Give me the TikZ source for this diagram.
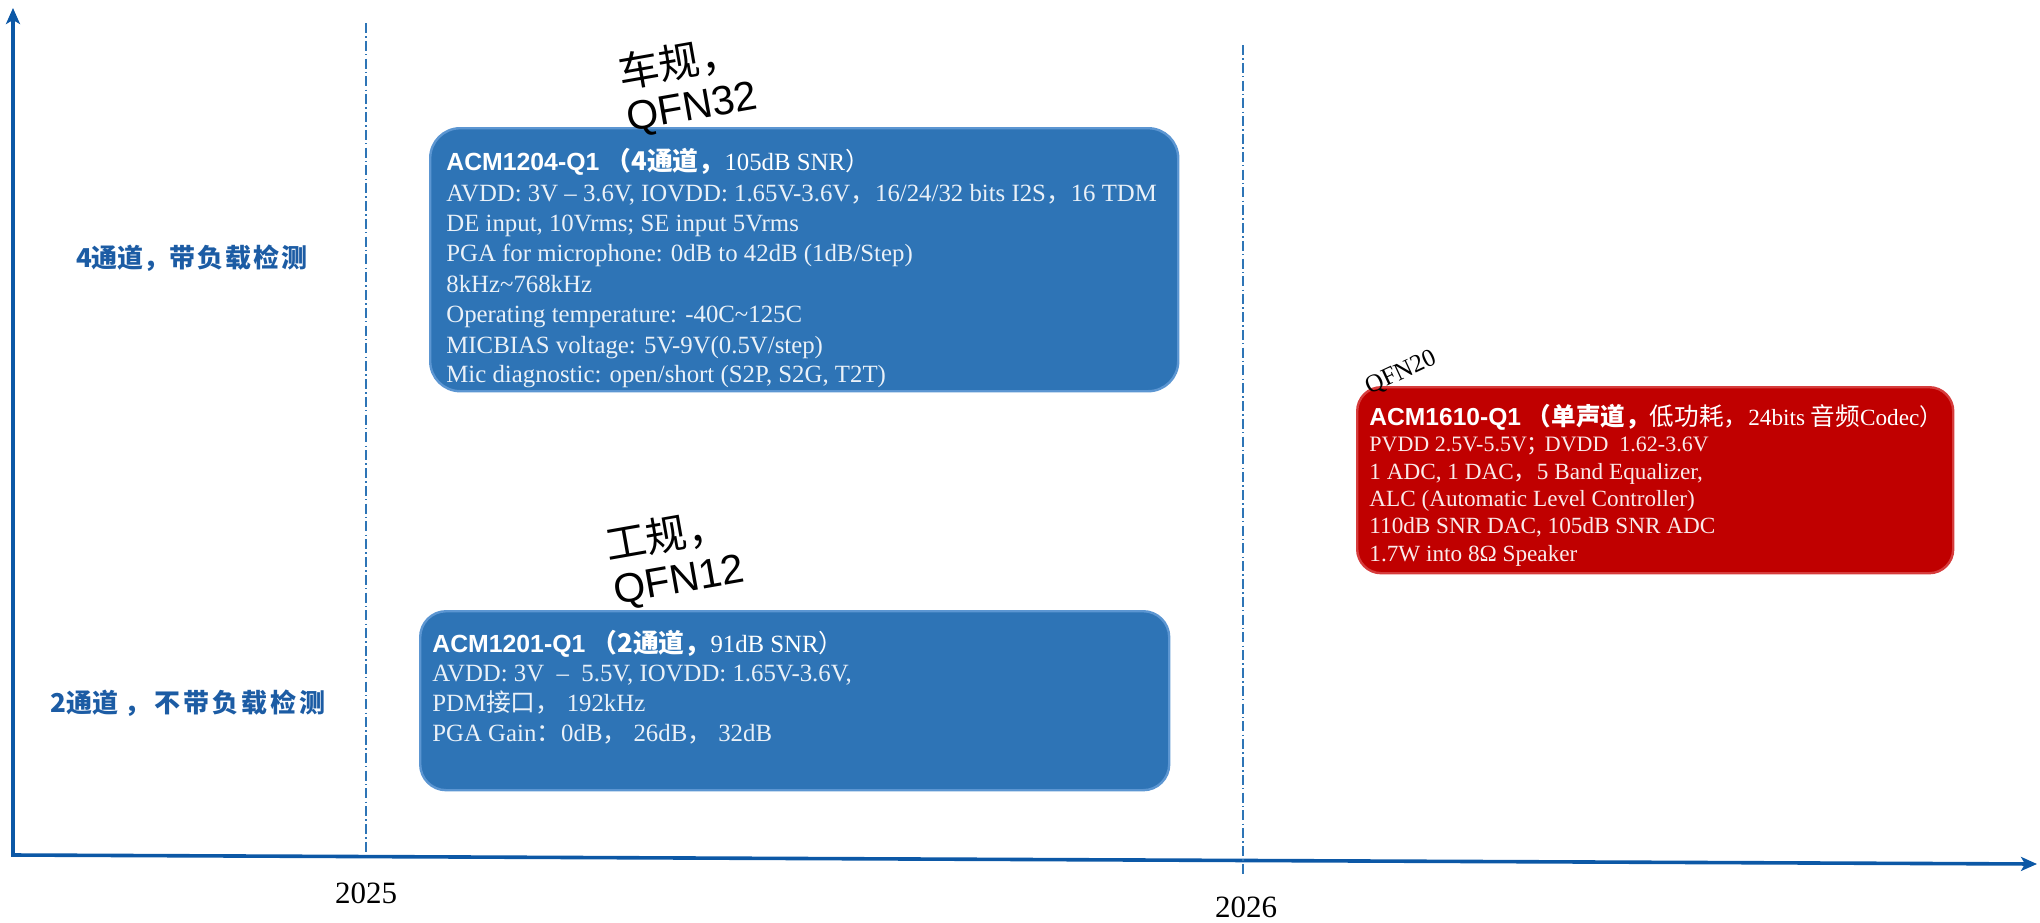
\documentclass[tikz,border=0pt]{standalone}
\usepackage{fontspec}
\setmainfont{Liberation Serif}
\newfontfamily\arialf{Liberation Sans}
\newfontfamily\cjk{Noto Sans CJK SC}
\usetikzlibrary{arrows.meta}
\definecolor{axisblue}{RGB}{12,88,166}
\definecolor{boxblue}{RGB}{46,116,182}
\definecolor{boxedge}{RGB}{92,150,210}
\definecolor{boxred}{RGB}{192,0,0}
\definecolor{rededge}{RGB}{214,60,60}
\definecolor{lblblue}{RGB}{28,92,164}
\definecolor{dashblue}{RGB}{46,117,182}
\newcommand{\zh}[1]{{\cjk #1}}
\newcommand{\zhb}[1]{{\cjk\bfseries #1}}
\newcommand{\pn}[1]{{\arialf\bfseries #1}}
\begin{document}
\begin{tikzpicture}[x=0.5pt,y=-0.5pt,
  axisline/.style={draw=axisblue,line width=1.8pt,{Stealth[length=8pt,width=7pt,inset=2pt]}-{Stealth[length=8pt,width=7pt,inset=2pt]}},
  guide/.style={draw=dashblue,line width=0.8pt,dash pattern=on 5pt off 1.6pt on 0.7pt off 1.6pt},
  bluebox/.style={draw=boxedge,fill=boxblue,line width=1.2pt,rounded corners=15pt,anchor=north west,inner sep=0pt},
  redbox/.style={draw=rededge,fill=boxred,line width=1.2pt,rounded corners=12pt,anchor=north west,inner sep=0pt},
  ln/.style={anchor=base west,inner sep=0pt,text=white!90!boxblue,font=\fontsize{12.4}{15}\selectfont},
  lnr/.style={anchor=base west,inner sep=0pt,text=white!92!boxred,font=\fontsize{11.6}{14}\selectfont},
  ttl/.style={anchor=base west,inner sep=0pt,text=white,font=\fontsize{12.4}{15}\selectfont},
  ttlr/.style={anchor=base west,inner sep=0pt,text=white,font=\fontsize{11.6}{14}\selectfont},
  rot/.style={align=left,inner sep=0pt,font=\arialf\fontsize{20.5}{22}\selectfont},
  lbl/.style={inner sep=0pt,text=lblblue,font=\cjk\bfseries\fontsize{13}{13}\selectfont},
  year/.style={inner sep=0pt,font=\fontsize{15.5}{16}\selectfont}]
\useasboundingbox (0,0) rectangle (2040,922);

% axes
\coordinate (ytip) at (13,8);
\coordinate (O) at (13,855);
\coordinate (xtip) at (2037,864);
\draw[axisline] (ytip) -- (O) -- (xtip);

% guide lines
\coordinate (g1t) at (366,23);
\coordinate (g1b) at (366,853);
\coordinate (g2t) at (1243,45);
\coordinate (g2b) at (1243,874);
\draw[guide] (g1t) -- (g1b);
\draw[guide] (g2t) -- (g2b);

% years
\node[year] (y2025) at (366,893) {2025};
\node[year] (y2026) at (1246,907) {2026};

% row labels
\node[lbl] (row4) at (192,258) {4通道，带\kern1pt 负\kern1pt 载\kern1pt 检\kern1pt 测};
\node[lbl] (row2) at (188,703) {2通道\kern3pt ，\kern2pt 不\kern1.5pt 带\kern1.5pt 负\kern1.5pt 载\kern1.5pt 检\kern1.5pt 测};

% box 1
\node[bluebox,minimum width=374pt,minimum height=131.5pt] (box1) at (429,127) {};
\node[ttl] (b1l1) at (446,170) {\pn{ACM1204-Q1} {\fontsize{12.9}{15}\selectfont\zhb{（4通道，}}105dB SNR\zh{）}};
\node[ln] (b1l2) at (446,201) {AVDD: 3V – 3.6V, IOVDD: 1.65V-3.6V\zh{，}16/24/32 bits I2S\zh{，}16 TDM};
\node[ln] (b1l3) at (446,231) {DE input, 10Vrms; SE input 5Vrms};
\node[ln] (b1l4) at (446,261) {PGA for microphone: 0dB to 42dB (1dB/Step)};
\node[ln] (b1l5) at (446,292) {8kHz\textasciitilde768kHz};
\node[ln] (b1l6) at (446,322) {Operating temperature: -40C\textasciitilde125C};
\node[ln] (b1l7) at (446,353) {MICBIAS voltage: 5V-9V(0.5V/step)};
\node[ln] (b1l8) at (446,382) {Mic diagnostic: open/short (S2P, S2G, T2T)};

% box 2
\node[bluebox,minimum width=374.5pt,minimum height=89.5pt,rounded corners=13pt] (box2) at (419,610) {};
\node[ttl] (b2l1) at (432,652) {\pn{ACM1201-Q1} {\fontsize{12.9}{15}\selectfont\zhb{（2通道，}}91dB SNR\zh{）}};
\node[ln] (b2l2) at (432,681) {AVDD: 3V \ – \ 5.5V, IOVDD: 1.65V-3.6V,};
\node[ln] (b2l3) at (432,711) {PDM\zh{接口，}\ 192kHz};
\node[ln] (b2l4) at (432,741) {PGA Gain\zh{：}0dB\zh{，}\ 26dB\zh{，}\ 32dB};

% box 3
\node[redbox,minimum width=298pt,minimum height=93pt] (box3) at (1356,386) {};
\node[ttlr] (b3l1) at (1369,425) {{\arialf\bfseries\fontsize{12.3}{14}\selectfont ACM1610-Q1} {\fontsize{12.3}{14}\selectfont\zhb{（单声道，}\zh{低功耗，}}24bits {\fontsize{12.3}{14}\selectfont\zh{音频}}Codec\zh{）}};
\node[lnr,font=\fontsize{11}{14}\selectfont] (b3l2) at (1369,451) {PVDD 2.5V-5.5V\zh{；}\kern-2pt DVDD\ \ 1.62-3.6V};
\node[lnr] (b3l3) at (1369,479) {1 ADC, 1 DAC\zh{，}5 Band Equalizer,};
\node[lnr] (b3l4) at (1369,506) {ALC (Automatic Level Controller)};
\node[lnr] (b3l5) at (1369,533) {110dB SNR DAC, 105dB SNR ADC};
\node[lnr] (b3l6) at (1369,561) {1.7W into 8Ω Speaker};

% package labels
\node[rot,rotate=10] (pkg1) at (688,85) {\zh{车规，}\\QFN32};
\node[rot,rotate=10] (pkg2) at (675,558) {\zh{工规，}\\QFN12};
\node[inner sep=0pt,font=\fontsize{12.5}{14}\selectfont,rotate=25] (pkg3) at (1401,373) {QFN20};
\end{tikzpicture}
\end{document}
